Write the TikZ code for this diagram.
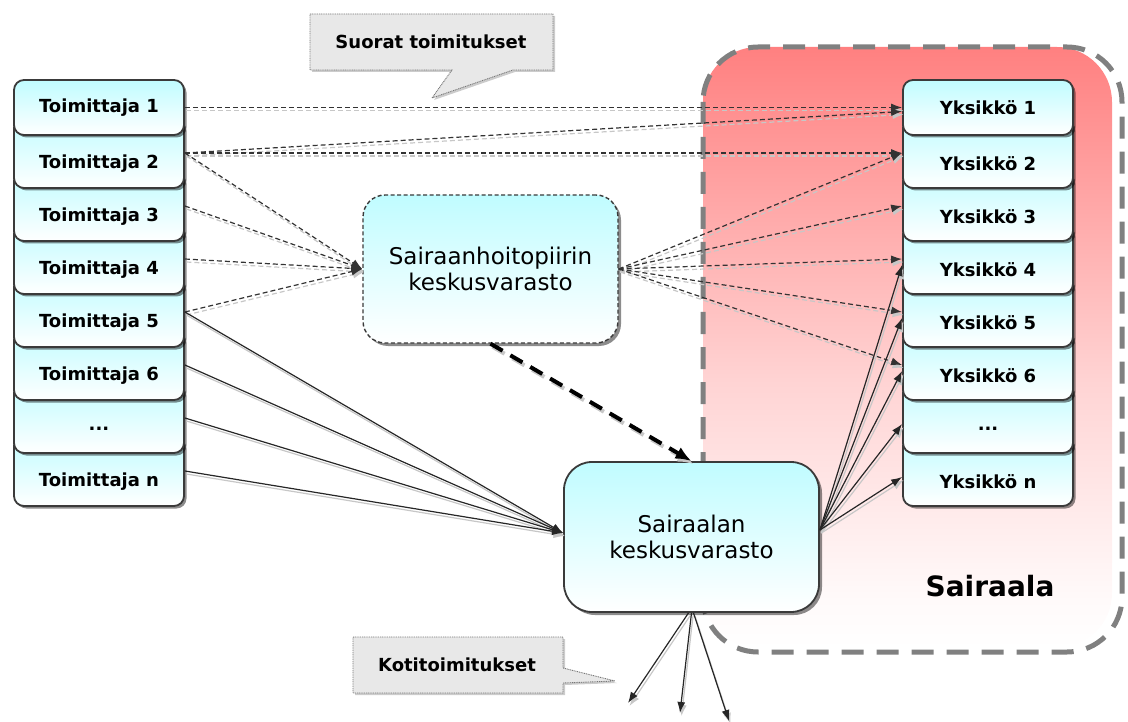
\documentclass[tikz,border=0pt]{standalone}
\usepackage{fontspec}
\setmainfont{DejaVu Sans}
\usetikzlibrary{arrows.meta,shadows}

\definecolor{boxtop}{RGB}{192,252,255}
\definecolor{boxline}{RGB}{58,58,58}
\definecolor{calloutfill}{RGB}{232,232,232}
\definecolor{calloutline}{RGB}{120,120,120}
\definecolor{wardborder}{RGB}{128,128,128}
\definecolor{wardred}{RGB}{255,128,128}
\definecolor{wardmid}{RGB}{255,212,212}
\definecolor{wardlow}{RGB}{255,250,250}
% hospital area: red at the top fading to white near the bottom
\pgfdeclareverticalshading{wardshade}{100bp}{color(0bp)=(white); color(25bp)=(white); color(29bp)=(wardlow); color(47bp)=(wardmid); color(75bp)=(wardred); color(100bp)=(wardred)}

\begin{document}
\begin{tikzpicture}[x=1pt,y=-1pt,
  unitbox/.style={draw=boxline, line width=1.8pt, rounded corners=10pt,
    top color=boxtop, bottom color=white, minimum width=170pt, inner sep=0pt,
    drop shadow={shadow xshift=2.5pt, shadow yshift=-2.5pt, fill=black, opacity=.45}},
  lbl/.style={font=\fontsize{18}{21}\selectfont\bfseries, inner sep=0pt},
  depot/.style={draw=boxline, top color=boxtop, bottom color=white,
    minimum width=255pt, inner sep=0pt, align=center,
    font=\fontsize{23}{26}\selectfont,
    drop shadow={shadow xshift=3pt, shadow yshift=-3pt, fill=black, opacity=.45}},
  callout/.style={fill=calloutfill, draw=calloutline, line width=0.9pt,
    dash pattern=on 1pt off 0.8pt,
    drop shadow={shadow xshift=2pt, shadow yshift=-2pt, fill=black, opacity=.2}},
  tip/.style={-{Latex[length=11pt,width=8pt]}},
  flowdash/.style={tip, line width=1.2pt, draw=black!80, dash pattern=on 5pt off 3pt,
    preaction={draw=black!22, line width=1.2pt, dash pattern=on 5pt off 3pt,
      transform canvas={shift={(1.5pt,-3pt)}}}},
  flowline/.style={tip, line width=1.2pt, draw=black!85,
    preaction={draw=black!22, line width=1.2pt,
      transform canvas={shift={(1.5pt,-3pt)}}}},
  bulkdash/.style={-{Latex[length=16pt,width=13pt]}, line width=4pt, draw=black,
    dash pattern=on 14pt off 9pt,
    preaction={draw=black!22, line width=4pt, dash pattern=on 14pt off 9pt,
      transform canvas={shift={(2pt,-3pt)}}}}
]
\useasboundingbox (0,0) rectangle (1128,722);

% hospital area
\shade[shading=wardshade, rounded corners=55pt] (703,47) rectangle (1112,648);
\draw[draw=wardborder, line width=5pt, dash pattern=on 22pt off 13pt,
  rounded corners=55pt] (703,47) rectangle (1122,652);
\node[font=\fontsize{28}{32}\selectfont\bfseries, inner sep=0pt] (ward) at (990,586) {Sairaala};

% suppliers, drawn bottom-up so each box overlaps the one below
\node[unitbox, minimum height=70pt] (t8) at (99,471) {};
\node[lbl] (t8l) at (99,482) {Toimittaja n};
\node[unitbox, minimum height=70pt] (t7) at (99,418) {};
\node[lbl] (t7l) at (99,429) {...};
\node[unitbox, minimum height=70pt] (t6) at (99,365) {};
\node[lbl] (t6l) at (99,376) {Toimittaja 6};
\node[unitbox, minimum height=70pt] (t5) at (99,312) {};
\node[lbl] (t5l) at (99,323) {Toimittaja 5};
\node[unitbox, minimum height=70pt] (t4) at (99,259) {};
\node[lbl] (t4l) at (99,270) {Toimittaja 4};
\node[unitbox, minimum height=70pt] (t3) at (99,206) {};
\node[lbl] (t3l) at (99,217) {Toimittaja 3};
\node[unitbox, minimum height=70pt] (t2) at (99,153) {};
\node[lbl] (t2l) at (99,164) {Toimittaja 2};
\node[unitbox, minimum height=55pt] (t1) at (99,107.5) {};
\node[lbl] (t1l) at (99,108) {Toimittaja 1};

% hospital units
\node[unitbox, minimum height=70pt] (y8) at (988,471) {};
\node[lbl] (y8l) at (988,482) {Yksikkö n};
\node[unitbox, minimum height=70pt] (y7) at (988,418) {};
\node[lbl] (y7l) at (988,429) {...};
\node[unitbox, minimum height=70pt] (y6) at (988,365) {};
\node[lbl] (y6l) at (988,376) {Yksikkö 6};
\node[unitbox, minimum height=70pt] (y5) at (988,312) {};
\node[lbl] (y5l) at (988,323) {Yksikkö 5};
\node[unitbox, minimum height=70pt] (y4) at (988,259) {};
\node[lbl] (y4l) at (988,270) {Yksikkö 4};
\node[unitbox, minimum height=70pt] (y3) at (988,206) {};
\node[lbl] (y3l) at (988,217) {Yksikkö 3};
\node[unitbox, minimum height=70pt] (y2) at (988,153) {};
\node[lbl] (y2l) at (988,164) {Yksikkö 2};
\node[unitbox, minimum height=55pt] (y1) at (988,107.5) {};
\node[lbl] (y1l) at (988,108) {Yksikkö 1};

% warehouses
\node[depot, minimum height=148pt, rounded corners=22pt, line width=1.4pt,
  dash pattern=on 4pt off 2.5pt] (shp) at (490.5,269)
  {Sairaanhoitopiirin\\keskusvarasto};
\node[depot, minimum height=150pt, rounded corners=28pt, line width=1.8pt]
  (sk) at (691.5,537) {Sairaalan\\keskusvarasto};

% callouts
\draw[callout] (310,14) -- (553,14) -- (553,70) -- (513,70) -- (432,98)
  -- (452,70) -- (310,70) -- cycle;
\node[lbl] (direct) at (431,42) {Suorat toimitukset};
\draw[callout] (353,637) -- (563,637) -- (563,668) -- (615,681) -- (563,683)
  -- (563,693) -- (353,693) -- cycle;
\node[lbl] (home) at (457,665) {Kotitoimitukset};

% direct deliveries
\draw[flowdash] (t1.east) -- (y1.west);
\draw[flowdash] (t2.east) -- ([yshift=-4pt]y1.west);
\draw[flowdash] (t2.east) -- (y2.west);

% via the district warehouse
\foreach \s in {t2,t3,t4,t5}
  \draw[flowdash] (\s.east) -- (shp.west);
\foreach \u in {y2,y3,y4,y5,y6}
  \draw[flowdash] (shp.east) -- (\u.west);
\draw[bulkdash] (shp.south) -- (sk.north);

% via the hospital warehouse
\foreach \s in {t5,t6,t7,t8}
  \draw[flowline] (\s.east) -- ([yshift=4pt]sk.west);
\foreach \u in {y4,y5,y6,y7,y8}
  \draw[flowline] ([yshift=7pt]sk.east) -- ([yshift=-6pt]\u.west);

% home deliveries
\coordinate (h1) at (628,703);
\coordinate (h2) at (680,713);
\coordinate (h3) at (729,721);
\draw[flowline] ([xshift=-3pt]sk.south) -- (h1);
\draw[flowline] (sk.south) -- (h2);
\draw[flowline] ([xshift=2pt]sk.south) -- (h3);
\end{tikzpicture}
\end{document}
